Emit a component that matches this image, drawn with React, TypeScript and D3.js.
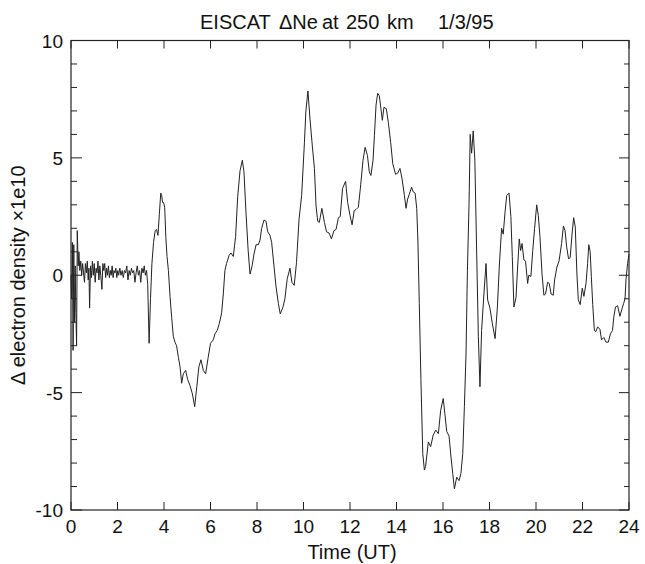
import * as d3 from "d3"

// EISCAT ΔNe at 250 km, 1/3/95 — [time UT (h), ΔNe ×1e10]
const neTrace: [number, number][] = [
  [0.0, 0.0], [0.03, -1.0], [0.06, 1.4], [0.09, -3.2], [0.12, 1.3], [0.15, -2.0], [0.18, 0.4],
  [0.21, -1.6], [0.24, -3.0], [0.27, 1.9], [0.31, 0.4], [0.34, 1.0], [0.38, 0.2], [0.42, 0.6],
  [0.46, 0.0], [0.5, 0.5], [0.54, 0.1], [0.58, -0.3], [0.62, 0.5], [0.66, 0.1], [0.7, 0.6],
  [0.74, -0.2], [0.77, 0.3], [0.8, -1.4], [0.84, 0.4], [0.88, -0.1], [0.92, 0.6], [0.96, 0.0],
  [1.0, 0.5], [1.04, -0.3], [1.08, 0.3], [1.12, 0.1], [1.16, 0.6], [1.2, -0.2], [1.24, 0.4],
  [1.28, 0.0], [1.33, -0.6], [1.37, 0.5], [1.41, 0.2], [1.45, 0.5], [1.49, -0.1], [1.53, 0.3],
  [1.57, 0.0], [1.61, 0.4], [1.65, -0.1], [1.69, 0.2], [1.73, 0.0], [1.77, 0.4], [1.81, -0.1],
  [1.85, 0.2], [1.89, 0.1], [1.93, 0.3], [1.97, -0.1], [2.01, 0.2], [2.05, 0.0], [2.1, 0.3],
  [2.15, 0.0], [2.2, 0.2], [2.25, -0.1], [2.3, 0.2], [2.35, 0.1], [2.4, 0.4], [2.45, -0.2],
  [2.5, 0.2], [2.55, 0.0], [2.6, 0.3], [2.65, 0.1], [2.7, 0.2], [2.75, -0.3], [2.8, 0.1],
  [2.85, 0.4], [2.9, 0.0], [2.95, 0.2], [3.0, -0.3], [3.05, 0.3], [3.1, 0.1], [3.15, 0.4],
  [3.2, 0.0], [3.25, 0.2], [3.3, -0.4], [3.36, -2.9], [3.42, -1.0], [3.48, 0.5], [3.55, 1.4],
  [3.62, 1.9], [3.68, 1.95], [3.74, 1.7], [3.8, 2.6], [3.86, 3.5], [3.9, 3.4], [3.94, 3.1],
  [3.98, 3.1], [4.03, 2.9], [4.08, 1.6], [4.13, 0.8], [4.19, 0.2], [4.26, -0.9], [4.33, -1.8],
  [4.4, -2.6], [4.47, -2.85], [4.54, -3.0], [4.62, -3.5], [4.69, -3.9], [4.76, -4.6], [4.83, -4.2],
  [4.93, -4.05], [5.02, -4.45], [5.12, -4.7], [5.22, -5.05], [5.32, -5.6], [5.41, -4.75],
  [5.5, -3.9], [5.59, -3.6], [5.69, -4.05], [5.79, -4.2], [5.9, -3.5], [6.0, -2.9], [6.12, -2.75],
  [6.19, -2.5], [6.29, -2.35], [6.38, -2.05], [6.48, -1.6], [6.55, -0.8], [6.62, 0.2], [6.69, 0.5],
  [6.8, 0.85], [6.88, 0.95], [6.98, 0.8], [7.08, 1.65], [7.17, 3.35], [7.27, 4.45], [7.37, 4.9],
  [7.44, 4.4], [7.53, 2.6], [7.62, 1.05], [7.7, 0.05], [7.79, 0.4], [7.87, 0.9], [7.96, 1.3],
  [8.06, 1.3], [8.13, 1.5], [8.2, 2.0], [8.3, 2.35], [8.39, 2.3], [8.46, 1.85], [8.56, 1.7],
  [8.63, 1.4], [8.73, 0.4], [8.82, -0.5], [8.92, -1.2], [9.0, -1.65], [9.12, -1.35], [9.2, -1.0],
  [9.3, -0.15], [9.42, 0.3], [9.5, -0.3], [9.6, -0.43], [9.7, 0.55], [9.81, 2.4], [9.92, 3.4],
  [10.04, 5.65], [10.1, 6.95], [10.19, 7.85], [10.28, 6.65], [10.38, 5.5], [10.47, 4.55],
  [10.54, 2.95], [10.61, 2.3], [10.68, 2.25], [10.79, 2.85], [10.9, 2.25], [10.99, 1.85],
  [11.1, 1.8], [11.2, 1.55], [11.31, 1.9], [11.4, 1.95], [11.5, 2.45], [11.58, 2.5], [11.68, 3.7],
  [11.81, 4.0], [11.9, 3.1], [12.0, 2.55], [12.09, 2.15], [12.18, 2.75], [12.26, 2.8], [12.36, 2.9],
  [12.46, 3.85], [12.56, 4.9], [12.65, 5.45], [12.75, 5.1], [12.83, 4.4], [12.9, 4.25], [12.99, 4.9],
  [13.05, 5.95], [13.12, 7.25], [13.19, 7.75], [13.26, 7.65], [13.33, 7.1], [13.39, 6.6],
  [13.46, 7.15], [13.56, 7.1], [13.65, 6.5], [13.75, 5.65], [13.84, 4.75], [13.96, 4.3],
  [14.05, 4.35], [14.15, 4.55], [14.24, 4.1], [14.34, 3.4], [14.41, 2.85], [14.48, 3.25],
  [14.55, 3.45], [14.65, 3.75], [14.72, 3.55], [14.8, 3.5], [14.87, 2.85], [14.92, 1.5],
  [14.98, -1.2], [15.05, -4.45], [15.13, -7.6], [15.2, -8.3], [15.25, -8.15], [15.37, -7.1],
  [15.47, -7.3], [15.58, -6.8], [15.69, -6.6], [15.8, -6.75], [15.9, -5.75], [16.01, -5.25],
  [16.08, -5.9], [16.16, -6.65], [16.26, -6.85], [16.34, -7.7], [16.42, -8.45], [16.49, -9.1],
  [16.59, -8.6], [16.69, -8.75], [16.77, -8.45], [16.85, -7.6], [16.92, -5.6], [16.99, -3.35],
  [17.05, 0.2], [17.12, 3.05], [17.17, 6.0], [17.23, 5.2], [17.3, 6.15], [17.37, 4.9], [17.45, 0.9],
  [17.52, -2.6], [17.59, -4.75], [17.66, -2.35], [17.76, -0.8], [17.85, 0.5], [17.92, -1.05],
  [18.02, -1.4], [18.12, -2.05], [18.24, -2.7], [18.34, -1.35], [18.42, 0.35], [18.52, 2.0],
  [18.59, 1.75], [18.67, 2.7], [18.74, 3.4], [18.84, 3.5], [18.92, 2.5], [18.98, 0.8],
  [19.05, -1.35], [19.14, -0.95], [19.21, 0.35], [19.28, 1.55], [19.34, 1.05], [19.4, 1.35],
  [19.48, 0.65], [19.55, 0.6], [19.64, -0.35], [19.69, 0.0], [19.78, -0.05], [19.86, 1.05],
  [19.94, 2.0], [20.03, 3.0], [20.1, 2.55], [20.17, 1.65], [20.26, 0.05], [20.34, -0.85],
  [20.41, -0.8], [20.5, -0.3], [20.57, -0.35], [20.65, -0.8], [20.74, -0.85], [20.8, -0.2],
  [20.9, 0.35], [20.99, 0.6], [21.1, 1.35], [21.18, 2.1], [21.25, 1.9], [21.32, 1.2], [21.4, 0.7],
  [21.47, 0.75], [21.55, 1.75], [21.62, 2.45], [21.69, 2.05], [21.76, 0.05], [21.82, -1.05],
  [21.9, -1.25], [21.99, -0.55], [22.06, -0.9], [22.15, -0.35], [22.22, 0.5], [22.27, 1.3],
  [22.33, 1.0], [22.38, -0.05], [22.44, -1.25], [22.51, -2.35], [22.58, -2.4], [22.65, -2.2],
  [22.75, -2.3], [22.82, -2.75], [22.92, -2.65], [23.01, -2.85], [23.11, -2.85], [23.2, -2.5],
  [23.29, -2.35], [23.35, -1.75], [23.42, -1.35], [23.51, -1.3], [23.61, -1.75], [23.69, -1.45],
  [23.77, -1.2], [23.83, -1.0], [23.87, -0.2], [23.94, 0.5], [24.0, 0.9],
]

const xTicks = [0, 2, 4, 6, 8, 10, 12, 14, 16, 18, 20, 22, 24]
const yLabels = [10, 5, 0, -5, -10]
const yMinor = d3.range(-10, 11, 1)

// title words and where each starts
const titleWords: [string, number][] = [
  ["EISCAT", 200],
  ["ΔNe", 279],
  ["at", 322],
  ["250", 346],
  ["km", 387],
  ["1/3/95", 438],
]

const W = 645
const H = 564
const margin = { top: 40.5, right: 16, bottom: 54, left: 71 }
const font = "'Liberation Sans', Arial, Helvetica, sans-serif"

export default function App() {
  const x = d3
    .scaleLinear()
    .domain([0, 24])
    .range([margin.left, W - margin.right])
  const y = d3
    .scaleLinear()
    .domain([-10, 10])
    .range([H - margin.bottom, margin.top])

  const line = d3
    .line<[number, number]>()
    .x((d) => x(d[0]))
    .y((d) => y(d[1]))

  const [x0, x1] = x.range()
  const [yb, yt] = y.range()

  return (
    <svg
      width={W}
      height={H}
      style={{ position: "absolute", left: 0, top: 0, background: "#fff" }}
      fontFamily={font}
    >
      {/* title */}
      <text y={29} fontSize={20} fill="#111">
        {titleWords.map(([w, tx]) => (
          <tspan key={w} x={tx}>
            {w}
          </tspan>
        ))}
      </text>

      {/* data trace */}
      <path d={line(neTrace) ?? ""} fill="none" stroke="#222" strokeWidth={1} strokeLinejoin="round" />

      {/* frame */}
      <rect x={x0} y={yt} width={x1 - x0} height={yb - yt} fill="none" stroke="#222" strokeWidth={1.2} />

      {/* x ticks, bottom and top */}
      {xTicks.map((t) => (
        <g key={"xt" + t}>
          <line x1={x(t)} x2={x(t)} y1={yb} y2={yb - 8} stroke="#222" strokeWidth={1} />
          <line x1={x(t)} x2={x(t)} y1={yt} y2={yt + 8} stroke="#222" strokeWidth={1} />
          <text x={x(t)} y={533} fontSize={19} textAnchor="middle" fill="#111">
            {t}
          </text>
        </g>
      ))}

      {/* y ticks, left and right */}
      {yMinor.map((v) => {
        const len = v % 5 === 0 ? 11 : 6
        return (
          <g key={"yt" + v}>
            <line x1={x0} x2={x0 + len} y1={y(v)} y2={y(v)} stroke="#222" strokeWidth={1} />
            <line x1={x1} x2={x1 - len + 1} y1={y(v)} y2={y(v)} stroke="#222" strokeWidth={1} />
          </g>
        )
      })}
      {yLabels.map((v) => (
        <text key={"yl" + v} x={63} y={y(v) + 7} fontSize={19} textAnchor="end" fill="#111">
          {v}
        </text>
      ))}

      {/* axis titles */}
      <text x={352} y={559} fontSize={20} textAnchor="middle" fill="#111">
        Time (UT)
      </text>
      <text
        transform={`translate(25, ${y(0)}) rotate(-90)`}
        fontSize={20}
        textAnchor="middle"
        fill="#111"
      >
        Δ electron density ×1e10
      </text>
    </svg>
  )
}
